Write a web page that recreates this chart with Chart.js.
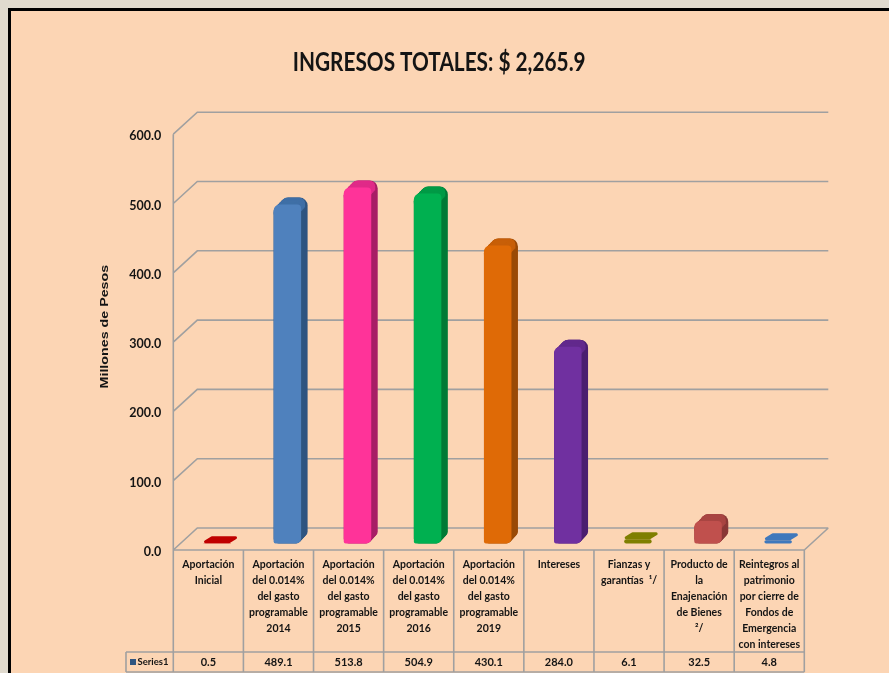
<!DOCTYPE html>
<html><head><meta charset="utf-8">
<style>
html,body{margin:0;padding:0;width:889px;height:673px;overflow:hidden;background:#E0DACE}
#frame{position:absolute;left:8px;top:8px;width:881px;height:665px;box-sizing:border-box;border-left:3px solid #000;border-top:3px solid #000;background:#FCD5B4}
canvas{position:absolute;left:0;top:0}
</style>
<script src="https://cdn.jsdelivr.net/npm/chart.js@4"></script>
</head><body>
<div id="frame"></div>
<canvas id="c" width="889" height="673"></canvas>
<script>
const categories = [
  ["Aportación","Inicial"],
  ["Aportación","del 0.014%","del gasto","programable","2014"],
  ["Aportación","del 0.014%","del gasto","programable","2015"],
  ["Aportación","del 0.014%","del gasto","programable","2016"],
  ["Aportación","del 0.014%","del gasto","programable","2019"],
  ["Intereses"],
  ["Fianzas y","garantías  ¹/"],
  ["Producto de","la","Enajenación","de Bienes","²/"],
  ["Reintegros al","patrimonio","por cierre de","Fondos de","Emergencia","con intereses"]
];
const series1 = [0.5, 489.1, 513.8, 504.9, 430.1, 284.0, 6.1, 32.5, 4.8];
const seriesName = "Series1";
const chartTitle = "INGRESOS TOTALES: $ 2,265.9";
const axisTitle = "Millones de Pesos";
const frontColors = ["#C00000","#4F81BD","#FF3399","#00B050","#DF6A06","#7030A0","#7F7F00","#C0504D","#3F78BC"];
const topColors   = ["#C00000","#3F6FA6","#E02A88","#009A46","#C75F08","#62298C","#6F6F00","#A94542","#3A6FAE"];
const sideColors  = ["#900000","#2F5580","#A81F66","#007A36","#9A4A06","#4C1F70","#5A5A00","#8A3836","#2F5A8C"];
const LINE = "#A0A0A0", INK = "#141414";
const FONT = "Lato, sans-serif";
const SHIFT_X = 8.9, SHIFT_Y = -6.5, DEPTH_X = 6.5, DEPTH_Y = -7;
const WALL_X = 24, WALL_Y = -22;
const TABLE_BOTTOM = 652, DATA_BOTTOM = 672, KEY_LEFT = 126;

function wrapDraw(target, method, ctx, transform) {
  const orig = target[method];
  target[method] = function (...args) {
    ctx.save();
    transform();
    orig.apply(this, args);
    ctx.restore();
  };
}

const wallsAndTable = {
  id: "wallsAndTable",
  afterLayout(chart) {
    if (chart.$wrapped) return;
    chart.$wrapped = true;
    const ctx = chart.ctx, yS = chart.scales.y;
    const cx = 439.5, cy = 342;
    wrapDraw(chart.titleBlock, "draw", ctx, () => { ctx.translate(cx, 1); ctx.scale(0.8, 1); ctx.translate(-cx, 0); });
    wrapDraw(yS, "drawTitle", ctx, () => { ctx.translate(2, cy - 15.5); ctx.scale(1, 1.24); ctx.translate(0, -cy); });
    wrapDraw(yS, "drawLabels", ctx, () => { ctx.translate(0, 2); });
  },
  beforeDatasetsDraw(chart) {
    const {ctx, scales:{y}, chartArea:a} = chart;
    ctx.save();
    ctx.strokeStyle = LINE; ctx.lineWidth = 1.6;
    ctx.beginPath();
    y.ticks.forEach(t => {
      const p = y.getPixelForValue(t.value);
      ctx.moveTo(a.left, p);
      ctx.lineTo(a.left + WALL_X, p + WALL_Y);
      ctx.lineTo(a.right + WALL_X, p + WALL_Y);
    });
    ctx.moveTo(a.left, a.top); ctx.lineTo(a.left, a.bottom);
    ctx.moveTo(a.right, a.bottom); ctx.lineTo(a.right + WALL_X, a.bottom + WALL_Y);
    ctx.stroke();
    ctx.restore();

    const meta = chart.getDatasetMeta(0);
    ctx.save();
    ctx.translate(SHIFT_X, SHIFT_Y);
    ctx.lineJoin = "round";
    meta.data.forEach((b, i) => {
      const w = b.width, l = b.x - w/2, t = b.y, h = b.base - b.y;
      if (h < 8) {
        const r = l + w;
        ctx.fillStyle = ctx.strokeStyle = frontColors[i];
        ctx.lineWidth = 3;
        ctx.beginPath();
        ctx.moveTo(l + 2, t - 1.5); ctx.lineTo(r - 2, t - 1.5);
        ctx.lineTo(r + DEPTH_X - 2, t + DEPTH_Y + 1.5);
        ctx.lineTo(l + DEPTH_X + 2, t + DEPTH_Y + 1.5);
        ctx.closePath(); ctx.fill(); ctx.stroke();
        return;
      }
      const STEPS = 8;
      ctx.fillStyle = sideColors[i];
      for (let s = STEPS; s >= 0; s--) {
        const o = s / STEPS;
        ctx.beginPath();
        ctx.roundRect(l + o*DEPTH_X, t + o*DEPTH_Y, w, h, [8, 8, 5, 5]);
        ctx.fill();
      }
      ctx.fillStyle = topColors[i];
      for (let s = STEPS; s >= 0; s--) {
        const o = s / STEPS;
        ctx.beginPath();
        ctx.roundRect(l + o*DEPTH_X, t + o*DEPTH_Y, w - 2.5, 10, [8, 6, 0, 0]);
        ctx.fill();
      }
    });
  },
  afterDatasetsDraw(chart) {
    const {ctx, scales:{x}, chartArea:a} = chart;
    ctx.restore();
    ctx.save();
    ctx.strokeStyle = LINE; ctx.lineWidth = 1.6;
    const step = (a.right - a.left) / categories.length;
    ctx.beginPath();
    ctx.moveTo(a.left, a.bottom); ctx.lineTo(a.right, a.bottom);
    ctx.moveTo(KEY_LEFT, TABLE_BOTTOM); ctx.lineTo(a.right, TABLE_BOTTOM);
    ctx.moveTo(KEY_LEFT, DATA_BOTTOM); ctx.lineTo(a.right, DATA_BOTTOM);
    ctx.moveTo(KEY_LEFT, TABLE_BOTTOM); ctx.lineTo(KEY_LEFT, DATA_BOTTOM);
    for (let i = 0; i <= categories.length; i++) {
      const px = i < categories.length ? x.getPixelForValue(i) - step/2 : a.right;
      ctx.moveTo(px, a.bottom); ctx.lineTo(px, DATA_BOTTOM);
    }
    ctx.stroke();
    ctx.fillStyle = INK;
    ctx.font = "bold 11px " + FONT;
    ctx.textBaseline = "middle";
    ctx.textAlign = "center";
    const my = (TABLE_BOTTOM + DATA_BOTTOM) / 2;
    series1.forEach((v, i) => ctx.fillText(v.toFixed(1), x.getPixelForValue(i), my));
    ctx.textAlign = "left";
    ctx.font = "bold 9.5px " + FONT;
    ctx.fillText(seriesName, 137.5, my);
    ctx.fillStyle = sideColors[1];
    ctx.fillRect(130, my - 3, 6, 6);
    ctx.restore();
  }
};

new Chart(document.getElementById("c"), {
  type: "bar",
  data: {
    labels: categories,
    datasets: [{
      label: seriesName,
      data: series1,
      backgroundColor: frontColors,
      borderWidth: 0,
      borderSkipped: false,
      borderRadius: {topLeft: 6, topRight: 4, bottomLeft: 2, bottomRight: 5},
      barPercentage: 0.392,
      categoryPercentage: 1,
      clip: false
    }]
  },
  options: {
    responsive: false,
    animation: false,
    layout: {padding: {left: 74, right: 84.7, top: 0, bottom: 0}},
    plugins: {
      legend: {display: false},
      tooltip: {enabled: false},
      title: {
        display: true, text: chartTitle, color: "#141414",
        font: {family: FONT, size: 26, weight: "bold", lineHeight: 1.2},
        padding: {top: 46, bottom: 57}
      }
    },
    scales: {
      x: {
        grid: {display: false, drawTicks: false}, border: {display: false},
        afterFit(s) { s.height = 123; },
        ticks: {
          autoSkip: false, maxRotation: 0, minRotation: 0, padding: 7,
          color: INK, font: {family: FONT, size: 10.5, weight: "bold", lineHeight: 1.52}
        }
      },
      y: {
        min: 0, max: 600,
        grid: {display: false, drawTicks: false}, border: {display: false},
        afterFit(s) { s.width = 99.3; },
        title: {
          display: true, text: axisTitle, color: INK, padding: {top: 22, bottom: 0},
          font: {family: "'Liberation Sans', Arial, sans-serif", size: 11.5, weight: "bold"}
        },
        ticks: {
          stepSize: 100, padding: 12, color: INK,
          font: {family: FONT, size: 12.5, weight: "bold"},
          callback: v => v.toFixed(1)
        }
      }
    }
  },
  plugins: [wallsAndTable]
});
</script>
</body></html>
